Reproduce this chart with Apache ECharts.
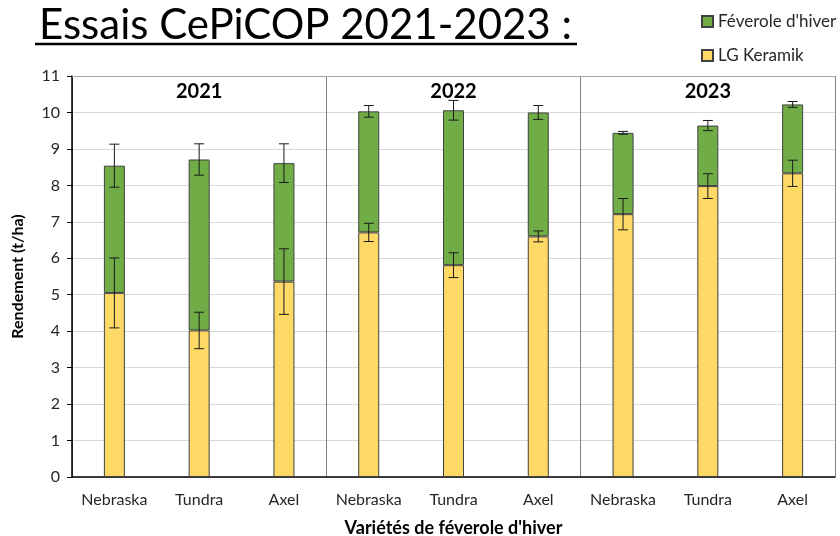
<!DOCTYPE html>
<html>
<head>
<meta charset="utf-8">
<script src="https://cdn.jsdelivr.net/npm/echarts@6/dist/echarts.min.js"></script>
<style>html,body{margin:0;padding:0;background:#fff}#c{width:840px;height:536px}</style>
</head>
<body>
<div id="c"></div>
<script>
var categories = ['Nebraska','Tundra','Axel','Nebraska','Tundra','Axel','Nebraska','Tundra','Axel'];
var years = ['2021','2022','2023'];
var keramik = [5.05, 4.02, 5.36, 6.71, 5.81, 6.60, 7.21, 7.98, 8.33];
var keramikErr = [0.96, 0.50, 0.90, 0.25, 0.34, 0.15, 0.43, 0.34, 0.36];
var feverole = [3.49, 4.69, 3.25, 3.32, 4.25, 3.40, 2.23, 1.66, 1.89];
var totalErr = [0.59, 0.43, 0.53, 0.16, 0.27, 0.19, 0.04, 0.14, 0.08];
var yTicks = [0, 11, 1];

var keramikErrData = keramik.map(function (v, i) { return [i, v - keramikErr[i], v + keramikErr[i]]; });
var totalErrData = keramik.map(function (v, i) { var t = v + feverole[i]; return [i, t - totalErr[i], t + totalErr[i]]; });

function errRender(params, api) {
  var x = api.value(0);
  var lo = api.coord([x, api.value(1)]);
  var hi = api.coord([x, api.value(2)]);
  var w = 5;
  var st = { stroke: '#1a1a1a', lineWidth: 1 };
  return {
    type: 'group',
    children: [
      { type: 'line', shape: { x1: hi[0], y1: hi[1], x2: lo[0], y2: lo[1] }, style: st },
      { type: 'line', shape: { x1: hi[0] - w, y1: hi[1], x2: hi[0] + w, y2: hi[1] }, style: st },
      { type: 'line', shape: { x1: lo[0] - w, y1: lo[1], x2: lo[0] + w, y2: lo[1] }, style: st }
    ]
  };
}

var chart = echarts.init(document.getElementById('c'));
chart.setOption({
  animation: false,
  textStyle: { fontFamily: 'Lato' },
  title: {
    text: 'Essais CePiCOP 2021-2023 :',
    left: 34, top: -1,
    textStyle: { fontFamily: 'Lato', fontSize: 42, fontWeight: 'normal', color: '#000' }
  },
  graphic: [
    { type: 'line', shape: { x1: 35, y1: 44, x2: 577, y2: 44 }, style: { stroke: '#000', lineWidth: 2.5 } }
  ],
  legend: {
    orient: 'vertical', left: 696, top: 8,
    icon: 'rect',
    itemWidth: 11, itemHeight: 11, itemGap: 17,
    data: ["Féverole d'hiver", 'LG Keramik'],
    textStyle: { fontFamily: 'Lato', fontSize: 17, color: '#262626' }
  },
  grid: { left: 72, right: 5, top: 76, bottom: 59, containLabel: false, outerBoundsMode: 'none' },
  xAxis: [
    {
      type: 'category', data: categories, position: 'bottom',
      axisLine: { lineStyle: { color: '#000', width: 1.5 } },
      axisTick: { show: false },
      axisLabel: { fontSize: 16, color: '#262626', margin: 15, interval: 0 },
      name: "Variétés de féverole d'hiver", nameLocation: 'middle', nameGap: 42,
      nameTextStyle: { fontSize: 18, fontWeight: 'bold', color: '#000' }
    },
    {
      type: 'category', data: years, position: 'top',
      axisLine: { show: true, lineStyle: { color: '#a6a6a6', width: 1 } },
      axisTick: { show: false },
      axisLabel: { inside: true, fontSize: 20, fontWeight: 'bold', color: '#000', margin: 6 },
      splitLine: { show: true, lineStyle: { color: '#808080', width: 1 } }
    }
  ],
  yAxis: {
    type: 'value', min: yTicks[0], max: yTicks[1], interval: yTicks[2],
    axisLine: { show: true, lineStyle: { color: '#000', width: 1.5 } },
    axisTick: { show: true, length: 5, lineStyle: { color: '#000' } },
    axisLabel: { fontSize: 16, color: '#262626', margin: 12 },
    splitLine: { lineStyle: { color: '#d9d9d9', width: 1 } },
    name: 'Rendement (t/ha)', nameLocation: 'middle', nameGap: 46, nameRotate: 90,
    nameTextStyle: { fontSize: 16, fontWeight: 'bold', color: '#000' }
  },
  series: [
    {
      name: 'LG Keramik', type: 'bar', stack: 'a', data: keramik, barWidth: 21,
      itemStyle: { color: '#FFD966', borderColor: '#404040', borderWidth: 1 }
    },
    {
      name: "Féverole d'hiver", type: 'bar', stack: 'a', data: feverole, barWidth: 21,
      itemStyle: { color: '#70AD47', borderColor: '#404040', borderWidth: 1 }
    },
    {
      type: 'custom', renderItem: errRender, data: keramikErrData,
      encode: { x: 0, y: [1, 2] }, z: 10, silent: true
    },
    {
      type: 'custom', renderItem: errRender, data: totalErrData,
      encode: { x: 0, y: [1, 2] }, z: 10, silent: true
    }
  ]
});
</script>
</body>
</html>
